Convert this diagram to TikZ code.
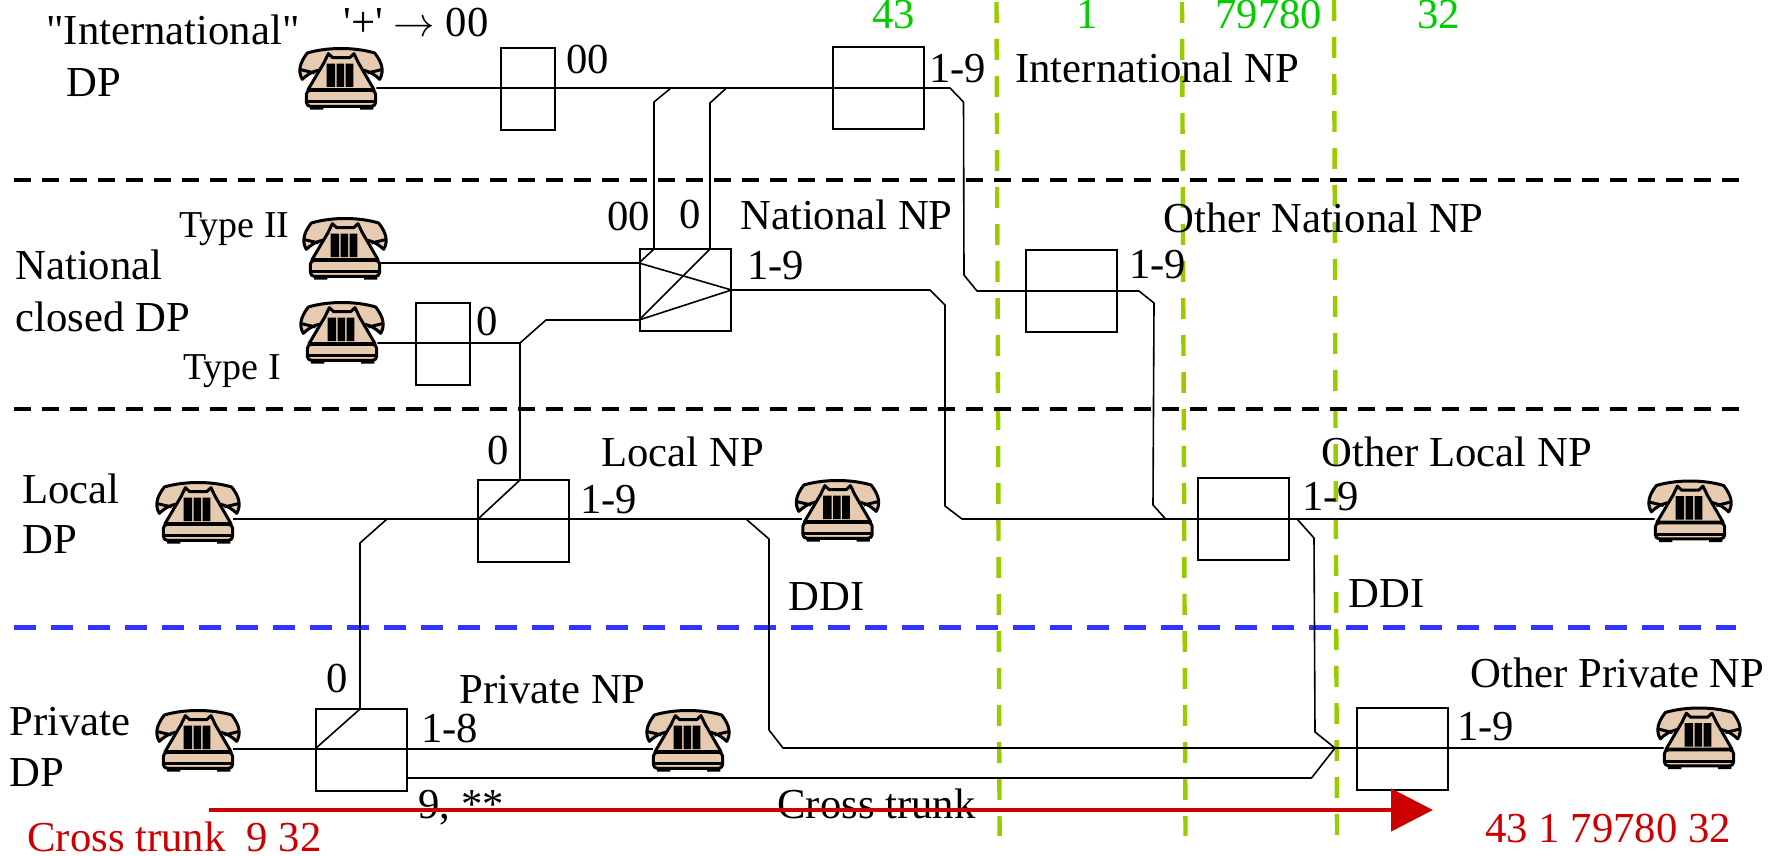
\documentclass[tikz,border=0pt]{standalone}
\usepackage{fontspec}
\setmainfont{Liberation Serif}
\newfontfamily\rawfont{Liberation Serif}[Ligatures=ResetAll]
\usetikzlibrary{arrows.meta,positioning}

\begin{document}
\begin{tikzpicture}[
    x=0.5pt, y=-0.5pt,
    numbox/.style={rectangle, draw, line width=1pt, inner sep=0pt, minimum height=41pt},
    narrowbox/.style={numbox, minimum width=27pt},
    widebox/.style={numbox, minimum width=45.5pt},
    phonebox/.style={inner sep=0pt, minimum width=35pt, minimum height=30.5pt},
    wire/.style={line width=0.8pt, line join=round},
    zone/.style={line width=2pt, dash pattern=on 8.5pt off 5.5pt},
    zoneblue/.style={line width=2.5pt, color=dialblue, dash pattern=on 11pt off 7.5pt},
    digits/.style={line width=2.2pt, color=digitline, dash pattern=on 10.5pt off 8pt},
    lbl/.style={anchor=base west, inner sep=0pt, font=\fontsize{21.35}{25}\selectfont},
    small/.style={lbl, font=\fontsize{19}{22}\selectfont},
    greenlbl/.style={lbl, text=digitgreen},
    redlbl/.style={lbl, text=trunkred},
    phone/.pic={
        \begin{scope}[xscale=1/3, yscale=1/3, shift={(-181,-146)}, line width=1.5pt, line join=round]
            \draw[fill=phonetan] (65,147) .. controls (52,125) and (55,100) .. (80,68)
                .. controls (140,50) and (222,50) .. (282,68)
                .. controls (307,100) and (310,125) .. (297,147)
                .. controls (285,135) and (270,125) .. (250,120) -- (112,120)
                .. controls (92,125) and (77,135) .. (65,147) -- cycle;
            \draw (60,118) -- (102,128) (302,118) -- (260,128);
            \draw[fill=phonetan] (130,97) -- (143,70) -- (156,82) -- (207,82) -- (220,70) -- (233,97)
                -- (280,178) -- (82,178) -- cycle;
            \fill (138,100) rectangle (163,170) (168,100) rectangle (190,170) (195,100) rectangle (218,170);
            \draw[fill=phonetan, rounded corners=2pt] (77,180) rectangle (285,228);
            \draw (77,214) -- (285,214);
            \fill (88,226) rectangle (128,238) (238,226) rectangle (278,238);
        \end{scope}
    }
]
    \definecolor{phonetan}{HTML}{E6CBB0}
    \definecolor{dialblue}{HTML}{3333FF}
    \definecolor{digitline}{HTML}{99CC00}
    \definecolor{digitgreen}{HTML}{00CC00}
    \definecolor{trunkred}{HTML}{CC0000}
    \useasboundingbox (0,0) rectangle (1778,856);

    % Boundaries
    \coordinate (zonea) at (14,180);
    \coordinate (zoneb) at (1739,180);
    \coordinate (zonec) at (14,409);
    \coordinate (zoned) at (1739,409);
    \coordinate (zonee) at (14,627);
    \coordinate (zonef) at (1736,627);
    \coordinate (cuta) at (996.5,2);
    \coordinate (cutb) at (999.6,836);
    \coordinate (cutc) at (1182,2);
    \coordinate (cutd) at (1185.5,836);
    \coordinate (cute) at (1334,0);
    \coordinate (cutf) at (1337,836);
    \draw[digits] (cuta) -- (cutb);
    \draw[digits] (cutc) -- (cutd);
    \draw[digits] (cute) -- (cutf);
    \draw[zone] (zonea) -- (zoneb);
    \draw[zone] (zonec) -- (zoned);
    \draw[zoneblue] (zonee) -- (zonef);

    % Boxes
    \node[narrowbox] (boxintl) at (528,89) {};
    \node[widebox] (boxcc) at (878,88) {};
    \node[widebox] (boxnat) at (685,290) {};
    \node[narrowbox] (boxtype) at (442.5,343.5) {};
    \node[widebox] (boxothernat) at (1071.5,290.5) {};
    \node[widebox] (boxlocal) at (523,521) {};
    \node[widebox] (boxotherlocal) at (1243,519) {};
    \node[widebox] (boxpriv) at (361,750) {};
    \node[widebox] (boxotherpriv) at (1402,748.5) {};

    % Phones
    \node[phonebox] (phintl) at (341,79) {};
    \node[phonebox] (phtypetwo) at (345,249) {};
    \node[phonebox] (phtypeone) at (342,333) {};
    \node[phonebox] (phlocal) at (198,513) {};
    \node[phonebox] (phlocalb) at (837.5,511) {};
    \node[phonebox] (photherlocal) at (1690,511.5) {};
    \node[phonebox] (phpriv) at (198,741) {};
    \node[phonebox] (phprivb) at (688,741) {};
    \node[phonebox] (photherpriv) at (1699,738.5) {};

    % Bends
    \coordinate (intla) at (950,88);
    \coordinate (intlb) at (963.5,102);
    \coordinate (intlc) at (964,275);
    \coordinate (intld) at (977,291);
    \coordinate (intle) at (1139,291);
    \coordinate (intlf) at (1154,303);
    \coordinate (intlg) at (1153,505);
    \coordinate (intlh) at (1165.6,519);
    \coordinate (nata) at (930,290);
    \coordinate (natb) at (945,305);
    \coordinate (natc) at (945,506);
    \coordinate (natd) at (962,519);
    \coordinate (upa) at (671,88);
    \coordinate (upb) at (654,102);
    \coordinate (upc) at (654,249);
    \coordinate (upd) at (639,263);
    \coordinate (upe) at (726.5,88);
    \coordinate (upf) at (710,103);
    \coordinate (upg) at (710,249);
    \coordinate (uph) at (639,320);
    \coordinate (typea) at (520,343);
    \coordinate (typeb) at (546,320);
    \coordinate (loca) at (520,480);
    \coordinate (locb) at (478,519);
    \coordinate (priva) at (387,519);
    \coordinate (privb) at (360,543);
    \coordinate (privc) at (360,709);
    \coordinate (privd) at (315,749);
    \coordinate (ddia) at (746,519);
    \coordinate (ddib) at (769,539);
    \coordinate (ddic) at (769,730);
    \coordinate (ddid) at (783,748);
    \coordinate (ddie) at (1297,519);
    \coordinate (ddif) at (1314,538);
    \coordinate (ddig) at (1315,732);
    \coordinate (ddih) at (1335,748);
    \coordinate (trunka) at (407,778);
    \coordinate (trunkb) at (1311.5,778);

    % Wires
    \draw[wire] (phintl.east |- intla) -- (intla) -- (intlb) -- (intlc) -- (intld) -- (intle) -- (intlf) -- (intlg) -- (intlh);
    \draw[wire] (boxnat.east) -- (nata) -- (natb) -- (natc) -- (natd) -- (photherlocal.west |- natd);
    \draw[wire] (phlocal.east |- natd) -- (phlocalb.west |- natd);
    \draw[wire] (upa) -- (upb) -- (upc) -- (upd);
    \draw[wire] (upe) -- (upf) -- (upg) -- (uph);
    \draw[wire] (phtypetwo.east |- upd) -- (upd) -- (boxnat.east) -- (uph) -- (typeb) -- (typea) -- (phtypeone.east |- typea);
    \draw[wire] (typea) -- (loca) -- (locb);
    \draw[wire] (priva) -- (privb) -- (privc) -- (privd);
    \draw[wire] (phpriv.east |- privd) -- (phprivb.west |- privd);
    \draw[wire] (ddia) -- (ddib) -- (ddic) -- (ddid) -- (photherpriv.west |- ddid);
    \draw[wire] (ddie) -- (ddif) -- (ddig) -- (ddih) -- (trunkb) -- (trunka);
    \foreach \ph in {phintl,phtypetwo,phtypeone,phlocal,phlocalb,photherlocal,phpriv,phprivb,photherpriv}
        \pic at (\ph) {phone};

    % Labels
    \node[lbl] (lblintl) at (46,45) {\rawfont "International"};
    \node[lbl] (lblintldp) at (66,97) {DP};
    \node[lbl] (lblplus) at (343,37) {\rawfont '+' $\rightarrow$ 00};
    \node[lbl] (lblzz) at (566,74) {00};
    \node[small] (lbltwo) at (179,237) {Type II};
    \node[small] (lblone) at (183,379) {Type I};
    \node[lbl] (lblnat) at (15,279) {National};
    \node[lbl] (lblclosed) at (15,331) {closed DP};
    \node[lbl] (lblzznat) at (607,230) {00};
    \node[lbl] (lblznat) at (679,228) {0};
    \node[lbl] (lblnatnp) at (740,229) {National NP};
    \node[lbl] (lblnatnine) at (747,279) {1-9};
    \node[lbl] (lblztype) at (476,335) {0};
    \node[greenlbl] (digcc) at (872,29) {43};
    \node[greenlbl] (digone) at (1076,29) {1};
    \node[greenlbl] (digarea) at (1215,29) {79780};
    \node[greenlbl] (digext) at (1417,29) {32};
    \node[lbl] (lblccnine) at (929,83) {1-9};
    \node[lbl] (lblintlnp) at (1015,83) {International NP};
    \node[lbl] (lblothernat) at (1163,232) {Other National NP};
    \node[lbl] (lblothernine) at (1129,278) {1-9};
    \node[lbl] (lblzloc) at (487,464) {0};
    \node[lbl] (lbllocnp) at (601,466) {Local NP};
    \node[lbl] (lbllocnine) at (580,513) {1-9};
    \node[lbl] (lblloc) at (22,503) {Local};
    \node[lbl] (lbllocdp) at (22,553) {DP};
    \node[lbl] (lblddi) at (788,610) {DDI};
    \node[lbl] (lblzpriv) at (326,692) {0};
    \node[lbl] (lblprivnp) at (459,703) {Private NP};
    \node[lbl] (lblpriv) at (9,735) {Private};
    \node[lbl] (lblprivdp) at (9,786) {DP};
    \node[lbl] (lblprivnine) at (421,742) {1-8};
    \node[lbl] (lblnine) at (418,818) {9, **};
    \node[redlbl] (lblcrossred) at (27,851) {Cross trunk\ \ 9 32};
    \node[lbl] (lblotherloc) at (1321,466) {Other Local NP};
    \node[lbl] (lblotherlocnine) at (1302,510) {1-9};
    \node[lbl] (lblddib) at (1348,607) {DDI};
    \node[lbl] (lblotherpriv) at (1470,687) {Other Private NP};
    \node[lbl] (lblotherprivnine) at (1457,740) {1-9};
    \node[lbl] (lblcross) at (777,818) {Cross trunk};
    \node[redlbl] (lblnumber) at (1485,842) {43 1 79780 32};

    % Arrow
    \coordinate (redstart) at (209,810);
    \coordinate (redend) at (1433,810);
    \draw[-{Triangle[length=21pt,width=21pt]}, line width=2.3pt, color=trunkred] (redstart) -- (redend);
\end{tikzpicture}
\end{document}
